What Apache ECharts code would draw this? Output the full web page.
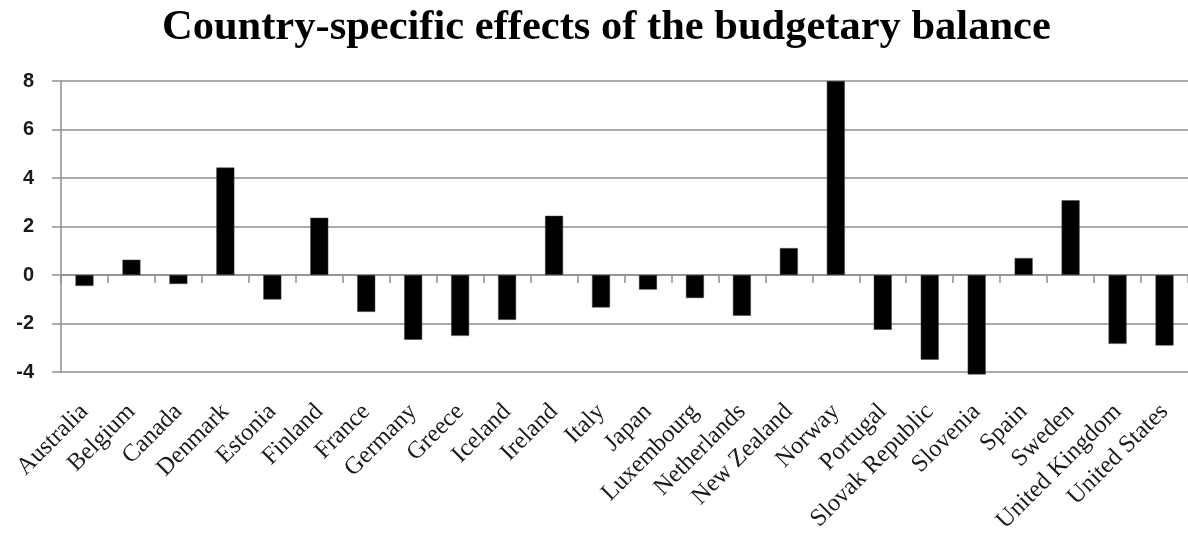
<!DOCTYPE html>
<html>
<head>
<meta charset="utf-8">
<title>Country-specific effects of the budgetary balance</title>
<script src="https://cdn.jsdelivr.net/npm/echarts@6/dist/echarts.min.js"></script>
<style>
  html, body { margin: 0; padding: 0; background: #fff; }
  #chart { width: 1188px; height: 536px; }
</style>
</head>
<body>
<div id="chart"></div>
<script>
// Countries on the category axis
const countries = [
  'Australia', 'Belgium', 'Canada', 'Denmark', 'Estonia', 'Finland', 'France',
  'Germany', 'Greece', 'Iceland', 'Ireland', 'Italy', 'Japan', 'Luxembourg',
  'Netherlands', 'New Zealand', 'Norway', 'Portugal', 'Slovak Republic',
  'Slovenia', 'Spain', 'Sweden', 'United Kingdom', 'United States'
];

// Country-specific effect of the budgetary balance
const effects = [
  -0.45, 0.63, -0.37, 4.43, -1.01, 2.36, -1.52,
  -2.67, -2.51, -1.85, 2.44, -1.34, -0.60, -0.95,
  -1.68, 1.11, 8.0, -2.26, -3.49,
  -4.1, 0.70, 3.08, -2.84, -2.91
];

// Value axis ticks
const yTicks = [-4, -2, 0, 2, 4, 6, 8];

const chart = echarts.init(document.getElementById('chart'), null, { renderer: 'canvas' });

const gridColor = '#8f8f8f';

chart.setOption({
  animation: false,
  backgroundColor: '#ffffff',
  title: {
    text: 'Country-specific effects of the budgetary balance',
    left: 157,
    top: 2,
    textStyle: {
      fontFamily: '"Liberation Serif", "DejaVu Serif", serif',
      fontWeight: 'bold',
      fontSize: 42.5,
      color: '#000'
    }
  },
  grid: {
    left: 61,
    right: 0,
    top: 81,
    bottom: 164,
    containLabel: false
  },
  xAxis: [
    {
      // labels placed along the bottom of the plot
      type: 'category',
      data: countries,
      position: 'bottom',
      axisLine: { show: false, onZero: false },
      axisTick: { show: false },
      axisLabel: {
        rotate: 45,
        interval: 0,
        margin: 36,
        fontFamily: '"Liberation Serif", "DejaVu Serif", serif',
        fontSize: 24.5,
        color: '#1a1a1a'
      }
    },
    {
      // axis line and ticks crossing at zero
      type: 'category',
      data: countries,
      position: 'bottom',
      axisLine: { show: true, onZero: true, lineStyle: { color: gridColor, width: 1.5 } },
      axisTick: { show: true, interval: 0, length: 8, inside: false, lineStyle: { color: gridColor, width: 1.5 } },
      axisLabel: { show: false, interval: 0 },
      splitLine: { show: false }
    }
  ],
  yAxis: {
    type: 'value',
    min: yTicks[0],
    max: yTicks[yTicks.length - 1],
    interval: 2,
    axisLine: { show: true, lineStyle: { color: gridColor, width: 1.5 } },
    axisTick: { show: true, length: 9, lineStyle: { color: gridColor, width: 1.5 } },
    splitLine: { show: true, lineStyle: { color: gridColor, width: 1.5 } },
    axisLabel: {
      margin: 27,
      fontFamily: '"Liberation Sans", Arial, sans-serif',
      fontWeight: 'bold',
      fontSize: 20,
      color: '#1a1a1a'
    }
  },
  series: [
    {
      type: 'bar',
      data: effects,
      xAxisIndex: 0,
      barWidth: 18,
      clip: false,
      itemStyle: { color: '#000', borderColor: '#444', borderWidth: 0.5 }
    }
  ]
});
</script>
</body>
</html>
